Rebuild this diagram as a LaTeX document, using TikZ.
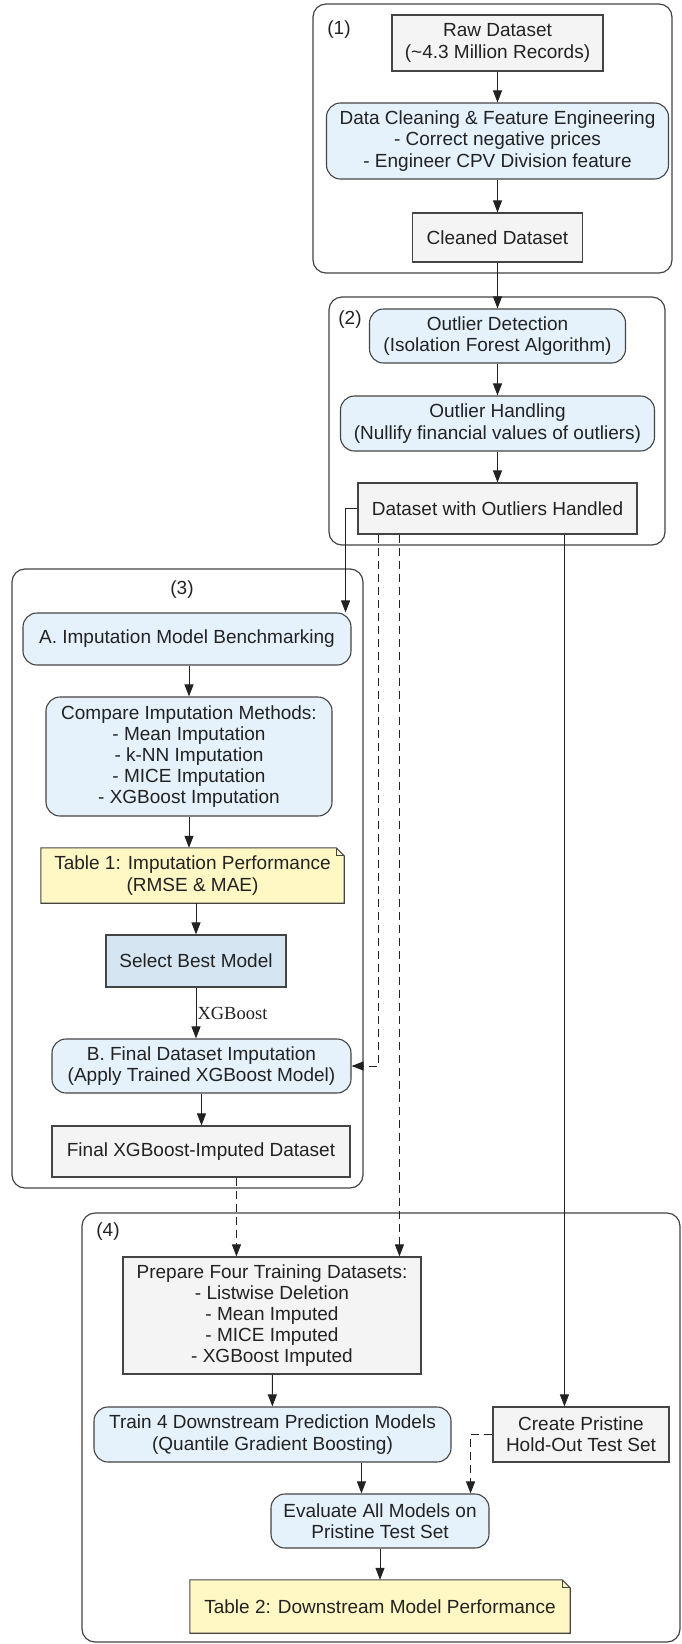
\documentclass[tikz,border=0pt]{standalone}
\usepackage{fontspec}
\setmainfont{Liberation Sans}
\newfontfamily\lblserif{Liberation Serif}
\usetikzlibrary{arrows.meta,backgrounds}

\definecolor{boxgray}{HTML}{F4F4F4}
\definecolor{boxblue}{HTML}{E5F2FC}
\definecolor{pickblue}{HTML}{D5E5F2}
\definecolor{noteyel}{HTML}{FFF8C4}
\definecolor{edgegray}{HTML}{444444}
\definecolor{txtgray}{HTML}{222222}

\begin{document}
\begin{tikzpicture}[x=1pt, y=-1pt, font=\fontsize{19}{21.2}\selectfont, text=txtgray,
        base/.style={draw=edgegray, line width=1.1pt, align=center, inner sep=0pt},
        dbox/.style={base, rectangle, fill=boxgray},
        rbox/.style={base, rectangle, rounded corners=14pt, fill=boxblue},
        pick/.style={base, rectangle, fill=pickblue},
        notebox/.style={rectangle, align=center, inner sep=0pt},
        notedraw/.style={fill=noteyel, draw=edgegray, line width=1.1pt, line join=miter},
        arr/.style={-{Triangle[length=12pt,width=9pt]}, line width=1pt, draw=txtgray},
        dasharr/.style={arr, dash pattern=on 8pt off 5pt},
        grp/.style={draw=edgegray, line width=1.2pt, rounded corners=13pt}]
        \useasboundingbox (0,0) rectangle (681,1644);

        % groups
        \draw[grp] (313,4) rectangle (672,273);
        \draw[grp] (329,297) rectangle (665,545);
        \draw[grp] (12,569) rectangle (363,1188);
        \draw[grp] (82,1213) rectangle (680,1642);
        \node (lab1) at (339,30) {(1)};
        \node (lab2) at (350,320) {(2)};
        \node (lab3) at (182,590) {(3)};
        \node (lab4) at (108,1232) {(4)};

        % (1)
        \node[dbox, minimum width=211pt, minimum height=56pt] (raw) at (497.5,43) {Raw Dataset\\(\textasciitilde 4.3 Million Records)};
        \node[rbox, minimum width=342pt, minimum height=76pt] (clean) at (497.5,141) {Data Cleaning \& Feature Engineering\\- Correct negative prices\\- Engineer CPV Division feature};
        \node[dbox, minimum width=170pt, minimum height=49pt] (cleaned) at (497.5,237.5) {Cleaned Dataset};

        % (2)
        \node[rbox, minimum width=256pt, minimum height=54pt] (detect) at (497.5,336) {Outlier Detection\\(Isolation Forest Algorithm)};
        \node[rbox, minimum width=314pt, minimum height=55pt] (handle) at (497.5,423.5) {Outlier Handling\\(Nullify financial values of outliers)};
        \node[dbox, minimum width=279pt, minimum height=51pt] (dsout) at (497.5,508.5) {Dataset with Outliers Handled};

        % (3)
        \node[rbox, minimum width=328pt, minimum height=52pt] (bench) at (187,639) {A. Imputation Model Benchmarking};
        \node[rbox, minimum width=286pt, minimum height=119pt] (compare) at (189,756.5) {Compare Imputation Methods:\\- Mean Imputation\\- k-NN Imputation\\- MICE Imputation\\- XGBoost Imputation};
        \node[notebox, minimum width=303pt, minimum height=55pt] (tab1) at (192.5,875.5) {Table 1: Imputation Performance\\(RMSE \& MAE)};
        \node[pick, minimum width=180pt, minimum height=52pt] (select) at (196,961) {Select Best Model};
        \node[rbox, minimum width=299pt, minimum height=54pt] (finimp) at (201.5,1066) {B. Final Dataset Imputation\\(Apply Trained XGBoost Model)};
        \node[dbox, minimum width=298pt, minimum height=51pt] (finaldata) at (201,1151.5) {Final XGBoost-Imputed Dataset};

        % (4)
        \node[dbox, minimum width=298pt, minimum height=117pt] (prep) at (272,1315.5) {Prepare Four Training Datasets:\\- Listwise Deletion\\- Mean Imputed\\- MICE Imputed\\- XGBoost Imputed};
        \node[rbox, minimum width=357pt, minimum height=55pt] (train) at (272.5,1434.5) {Train 4 Downstream Prediction Models\\(Quantile Gradient Boosting)};
        \node[dbox, minimum width=176pt, minimum height=55pt] (pristine) at (581,1434.5) {Create Pristine\\Hold-Out Test Set};
        \node[rbox, minimum width=218pt, minimum height=54pt] (evaluate) at (380,1521) {Evaluate All Models on\\Pristine Test Set};
        \node[notebox, minimum width=380pt, minimum height=53pt] (tab2) at (380,1606.5) {Table 2: Downstream Model Performance};

        % note outlines with folded corner
        \begin{pgfonlayer}{background}
            \foreach \nt in {tab1,tab2} {
                \filldraw[notedraw] (\nt.south west) -- (\nt.south east) -- ([yshift=-8pt]\nt.north east)
                    -- ([xshift=-8pt]\nt.north east) -- (\nt.north west) -- cycle;
                \draw[notedraw, fill=none] ([xshift=-8pt]\nt.north east) |- ([yshift=-8pt]\nt.north east);
            }
        \end{pgfonlayer}

        % taps on shared lines
        \coordinate (tapB) at ([xshift=21pt]dsout.south west);
        \coordinate (tapP) at ([xshift=42pt]dsout.south west);
        \coordinate (tapH) at ([xshift=207pt]dsout.south west);
        \coordinate (tapF) at ([xshift=185pt]finaldata.south west);
        \coordinate (tapT) at ([xshift=268pt]train.south west);

        \draw[arr] (raw) -- (clean);
        \draw[arr] (clean) -- (cleaned);
        \draw[arr] (cleaned) -- (detect);
        \draw[arr] (detect) -- (handle);
        \draw[arr] (handle) -- (dsout);

        \draw[arr] (dsout.west) -| ([xshift=-6pt]bench.north east);
        \draw[arr] (bench.south -| compare.north) -- (compare.north);
        \draw[arr] (compare.south) -- (compare.south |- tab1.north);
        \draw[arr] (tab1.south -| select.north) -- (select.north);
        \draw[arr] (select.south) -- (select.south |- finimp.north)
            node[midway, anchor=west, inner sep=1pt, font=\lblserif\fontsize{18.5}{20}\selectfont] (xgb) {XGBoost};
        \draw[arr] (finimp.south) -- (finimp.south |- finaldata.north);
        \draw[dasharr] (tapB) |- (finimp.east);

        \draw[dasharr] (tapF) -- (tapF |- prep.north);
        \draw[dasharr] (tapP) -- (tapP |- prep.north);
        \draw[arr] (tapH) -- (tapH |- pristine.north);
        \draw[arr] (prep) -- (train);
        \draw[arr] (tapT) -- (tapT |- evaluate.north);
        \draw[dasharr] (pristine.west) -| ([xshift=-19pt]evaluate.north east);
        \draw[arr] (evaluate) -- (tab2);
    \end{tikzpicture}
\end{document}
